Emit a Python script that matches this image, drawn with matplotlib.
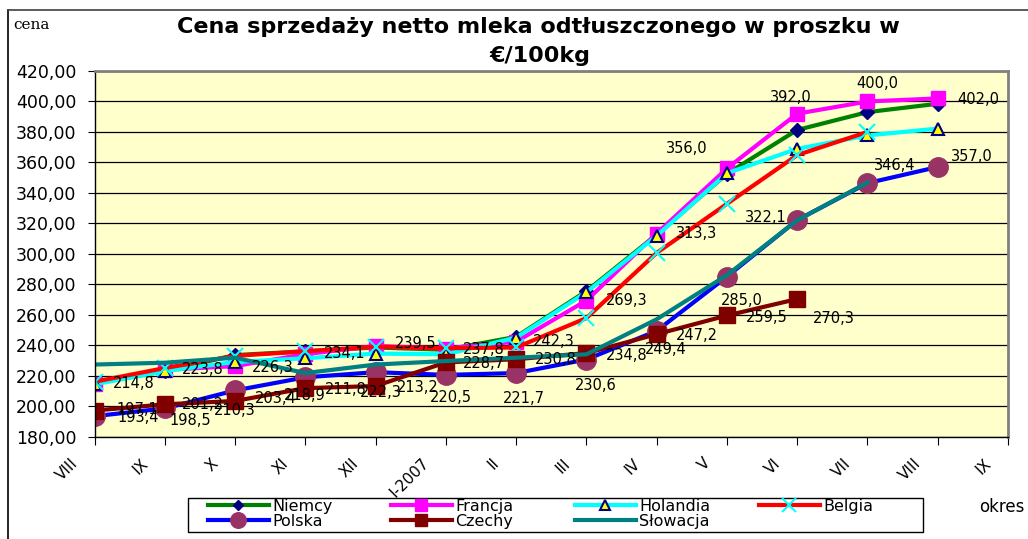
import numpy as np
import matplotlib
matplotlib.use('Agg')
import matplotlib.pyplot as plt
from matplotlib.lines import Line2D
from matplotlib.patches import Rectangle
from matplotlib.transforms import ScaledTranslation

# categories on x axis (months)
months = ['VIII', 'IX', 'X', 'XI', 'XII', 'I-2007', 'II', 'III', 'IV', 'V', 'VI', 'VII', 'VIII', 'IX']

# prices EUR/100kg
niemcy   = [215.0, 223.0, 233.5, 236.0, 238.5, 237.0, 245.5, 275.5, 312.5, 352.5, 381.3, 393.0, 398.5]
francja  = [214.8, 223.8, 226.3, 234.1, 239.5, 237.8, 242.3, 269.3, 313.3, 356.0, 392.0, 400.0, 402.0]
holandia = [214.3, 223.0, 229.0, 231.4, 234.5, 234.0, 245.0, 274.7, 311.8, 352.9, 368.9, 377.7, 382.2]
belgia   = [216.0, 225.0, 233.0, 236.0, 239.0, 238.0, 238.5, 257.8, 300.6, 332.8, 364.8, 380.0]
polska   = [193.4, 198.5, 210.3, 218.9, 222.3, 220.5, 221.7, 230.6, 249.4, 285.0, 322.1, 346.4, 357.0]
czechy   = [197.1, 201.2, 203.4, 211.8, 213.2, 228.7, 230.8, 234.8, 247.2, 259.5, 270.3]
slowacja = [227.3, 228.5, 231.8, 221.7, 227.3, 229.6, 231.8, 234.0, 257.0, 286.0, 322.0, 346.8]

yticks = [180, 200, 220, 240, 260, 280, 300, 320, 340, 360, 380, 400, 420]

fig = plt.figure(figsize=(10.28, 5.39), dpi=100)
ax = fig.add_axes([94.5/1028, 1-436.6/539, (1008-94.5)/1028, (436.6-71)/539])
ax.set_facecolor('#FFFFCC')

series = [
    ('Niemcy', niemcy, '#008000', dict(marker='D', ms=7, mfc='#000080', mec='#000080')),
    ('Francja', francja, '#FF00FF', dict(marker='s', ms=10, mfc='#FF00FF', mec='#FF00FF')),
    ('Holandia', holandia, '#00FFFF', dict(marker='^', ms=9, mfc='#FFFF00', mec='#000080', mew=1.5)),
    ('Belgia', belgia, '#FF0000', dict(marker='x', ms=12, mec='#00FFFF', mew=1.5)),
    ('Polska', polska, '#0000FF', dict(marker='o', ms=14, mfc='#993366', mec='#993366')),
    ('Czechy', czechy, '#800000', dict(marker='s', ms=11, mfc='#800000', mec='#800000')),
    ('Słowacja', slowacja, '#008080', dict(marker='None')),
]

handles = {}
for name, vals, col, mk in series:
    x = np.arange(len(vals))
    h, = ax.plot(x, vals, color=col, lw=3, label=name, **mk)
    handles[name] = h

# data labels: (ha, dx, dy) in pixels, dy down
lab_pos = {
    'Francja': [('left', 18, 0), ('left', 17, 0), ('left', 17, 1), ('left', 19, -1), ('left', 19, -2),
                ('left', 17, 1), ('left', 17, 0), ('left', 19, 0), ('left', 19, 0), ('right', -19, -20),
                ('center', -6, -16), ('center', 10, -18), ('left', 20, 1)],
    'Polska': [('left', 23, 1), ('left', 5, 12), ('center', 0, 20), ('center', -1, 18), ('center', 5, 20),
               ('center', 5, 23), ('center', 8, 25), ('center', 9, 26), ('center', 9, 19), ('center', 15, 24),
               ('right', -11, -3), ('left', 6, -18), ('left', 13, -10)],
    'Czechy': [('left', 22, -1), ('left', 17, 0), ('left', 20, -2), ('left', 20, 1), ('left', 21, 1),
               ('left', 17, 1), ('left', 19, 0), ('left', 19, 2), ('left', 19, 1), ('left', 19, 2),
               ('left', 16, 19)],
}
data = {'Francja': francja, 'Polska': polska, 'Czechy': czechy}
for name, pos in lab_pos.items():
    for i, (v, (ha, dx, dy)) in enumerate(zip(data[name], pos)):
        ax.annotate(f'{v:.1f}'.replace('.', ','), (i, v), xytext=(dx, -dy),
                    textcoords='offset pixels', ha=ha, va='center', fontsize=10.5, color='black')

ax.set_xlim(0, 13)
ax.set_ylim(180, 420)
ax.set_yticks(yticks)
ax.set_yticklabels([f'{v:.2f}'.replace('.', ',') for v in yticks], fontsize=12.5)
ax.set_xticks(np.arange(len(months)))
ax.set_xticklabels(months, rotation=45, ha='right', va='center', rotation_mode='anchor', fontsize=11)
ax.tick_params(axis='x', length=6, pad=0, direction='out')
ax.tick_params(axis='y', length=5, pad=8, direction='out')
shift = ScaledTranslation(-19/100, -16/100, fig.dpi_scale_trans)
for lab in ax.get_xticklabels():
    lab.set_transform(lab.get_transform() + shift)
ax.yaxis.grid(True, color='black', lw=0.9)
ax.set_axisbelow(True)
for s in ['left', 'bottom']:
    ax.spines[s].set_color('black')
    ax.spines[s].set_linewidth(1)
for s in ['top', 'right']:
    ax.spines[s].set_color('#808080')
    ax.spines[s].set_linewidth(2)

fig.text(538/1028, 1-27/539, 'Cena sprzedaży netto mleka odtłuszczonego w proszku w',
         ha='center', va='center', fontsize=16, fontweight='bold')
fig.text(540/1028, 1-56/539, '€/100kg', ha='center', va='center', fontsize=16, fontweight='bold')
fig.text(13/1028, 1-25/539, 'cena', ha='left', va='center', fontsize=11, family='DejaVu Serif')
fig.text(1024/1028, 1-507/539, 'okres', ha='right', va='center', fontsize=12)

# legend: frame plus four columns laid out like the original
fig.add_artist(Rectangle((188/1028, 1-532/539), (923-188)/1028, 34/539, transform=fig.transFigure,
                         facecolor='white', edgecolor='black', lw=1, zorder=1))
leg_cols = [['Niemcy', 'Polska'], ['Francja', 'Czechy'], ['Holandia', 'Słowacja'], ['Belgia']]
leg_x = [208, 391, 575, 759]
for names, x0 in zip(leg_cols, leg_x):
    fig.legend([handles[n] for n in names], names, loc='upper left',
               bbox_to_anchor=(x0/1028, 1-499/539), frameon=False, fontsize=11.5,
               handlelength=3.8, handletextpad=0.2, labelspacing=0.0, borderpad=0,
               borderaxespad=0, markerscale=0.8)

# outer chart frame
fig.add_artist(Line2D([8/1028, 8/1028], [0, 1-10/539], color='black', lw=1.2))
fig.add_artist(Line2D([8/1028, 1], [1-10/539, 1-10/539], color='#404040', lw=1.2))

fig.savefig('out.png', dpi=100)
